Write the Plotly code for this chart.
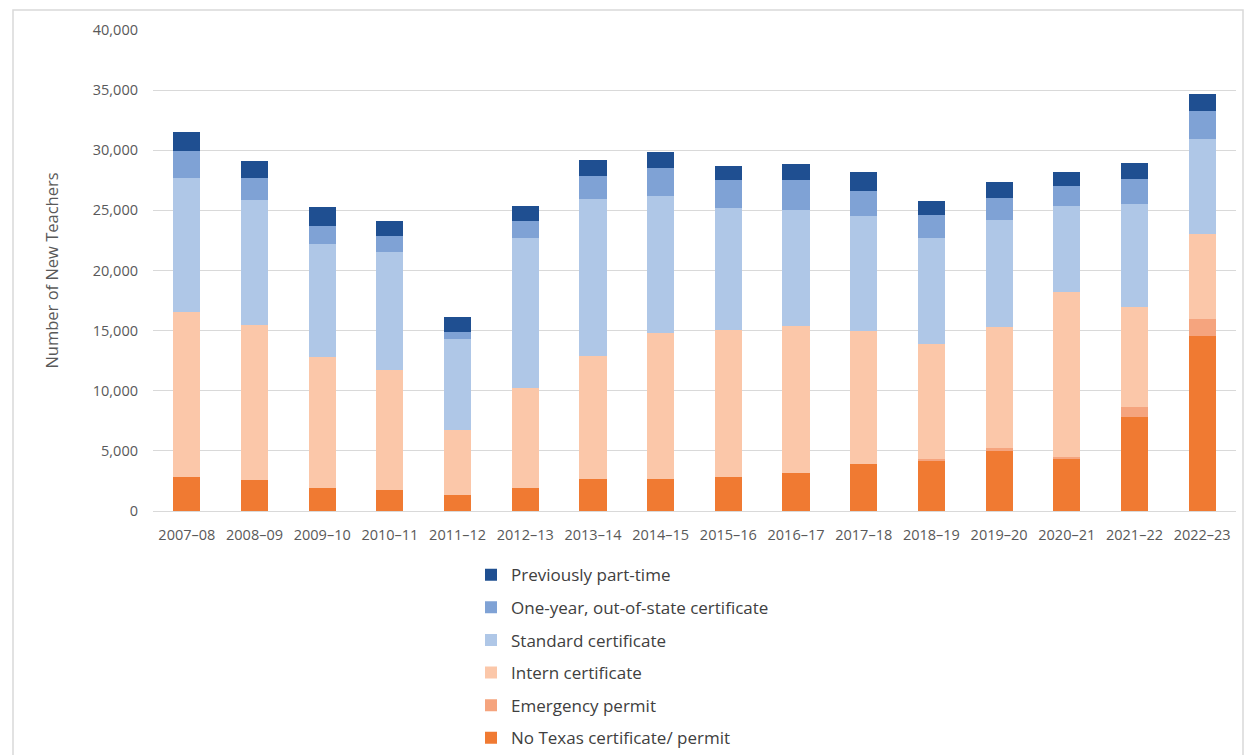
import plotly.graph_objects as go

# School years on the x axis
years = ["2007–08", "2008–09", "2009–10", "2010–11", "2011–12", "2012–13",
         "2013–14", "2014–15", "2015–16", "2016–17", "2017–18", "2018–19",
         "2019–20", "2020–21", "2021–22", "2022–23"]

# New teachers by certification route (stacked bottom to top)
no_texas_cert = [2830, 2560, 1920, 1780, 1370, 1950, 2620, 2700,
                 2830, 3200, 3950, 4220, 5000, 4370, 7830, 14560]
emergency_permit = [0, 0, 0, 0, 0, 0, 0, 0,
                    0, 0, 0, 80, 250, 100, 840, 1390]
intern_cert = [13750, 12910, 10910, 9950, 5360, 8250, 10270, 12080,
               12230, 12220, 11050, 9590, 10030, 13780, 8280, 7080]
standard_cert = [11120, 10420, 9370, 9800, 7550, 12500, 13090, 11390,
                 10140, 9580, 9500, 8810, 8940, 7140, 8580, 7920]
one_year_oos = [2220, 1810, 1470, 1300, 640, 1380, 1850, 2360,
                2300, 2500, 2140, 1940, 1810, 1610, 2090, 2300]
prev_part_time = [1610, 1440, 1610, 1310, 1250, 1250, 1340, 1340,
                  1170, 1370, 1530, 1170, 1300, 1170, 1330, 1390]

series = [
    ("No Texas certificate/ permit", no_texas_cert, "#F07A32"),
    ("Emergency permit", emergency_permit, "#F5A47E"),
    ("Intern certificate", intern_cert, "#FBC7A9"),
    ("Standard certificate", standard_cert, "#AFC7E7"),
    ("One-year, out-of-state certificate", one_year_oos, "#7FA2D5"),
    ("Previously part-time", prev_part_time, "#1F4F91"),
]

y_ticks = [0, 5000, 10000, 15000, 20000, 25000, 30000, 35000, 40000]

fig = go.Figure()
n = len(series)
for i, (name, vals, color) in enumerate(series):
    fig.add_trace(go.Bar(
        x=years, y=vals, name=name, marker_color=color,
        marker_line_width=0, legendgroup=f"g{i}",
        legendrank=(n - i) * 10,
    ))

font_family = "'Open Sans', Lato, sans-serif"

# plot area in pixels
L, R, T, B = 153, 9, 30, 244
W, H = 1245, 755
pw, ph = W - L - R, H - T - B

fig.update_layout(
    barmode="stack",
    bargap=0.6,
    width=W, height=H,
    margin=dict(l=L, r=R, t=T, b=B, autoexpand=False),
    paper_bgcolor="white",
    plot_bgcolor="white",
    font=dict(family=font_family, color="#595959"),
    showlegend=True,
    legend=dict(
        x=(471 - L) / pw, y=-0.096, xanchor="left", yanchor="top",
        traceorder="grouped",
        tracegroupgap=7.5,
        font=dict(size=17, color="#404040"),
        itemwidth=30,
        bgcolor="rgba(0,0,0,0)",
    ),
    xaxis=dict(
        showgrid=False,
        showline=True, linecolor="#D9D9D9", linewidth=1,
        tickfont=dict(size=14.5, color="#595959"),
        ticks="",
        ticklabelstandoff=11,
    ),
    yaxis=dict(
        range=[0, 40000],
        tickvals=y_ticks,
        tickformat=",",
        showgrid=True, gridcolor="#D9D9D9", gridwidth=1,
        zeroline=False,
        tickfont=dict(size=14.5, color="#595959"),
        ticks="",
        ticklabelstandoff=14,
        title=dict(text="Number of New Teachers",
                   font=dict(size=16.5, color="#595959"), standoff=30),
    ),
    shapes=[
        dict(type="rect", xref="paper", yref="paper",
             x0=-(L - 13) / pw, x1=(1243 - L) / pw,
             y0=-(790 - (H - B)) / ph, y1=((H - B) - 10) / ph,
             line=dict(color="#D9D9D9", width=1.5), fillcolor="rgba(0,0,0,0)",
             layer="below"),
    ],
)

fig.write_html("out.html")
